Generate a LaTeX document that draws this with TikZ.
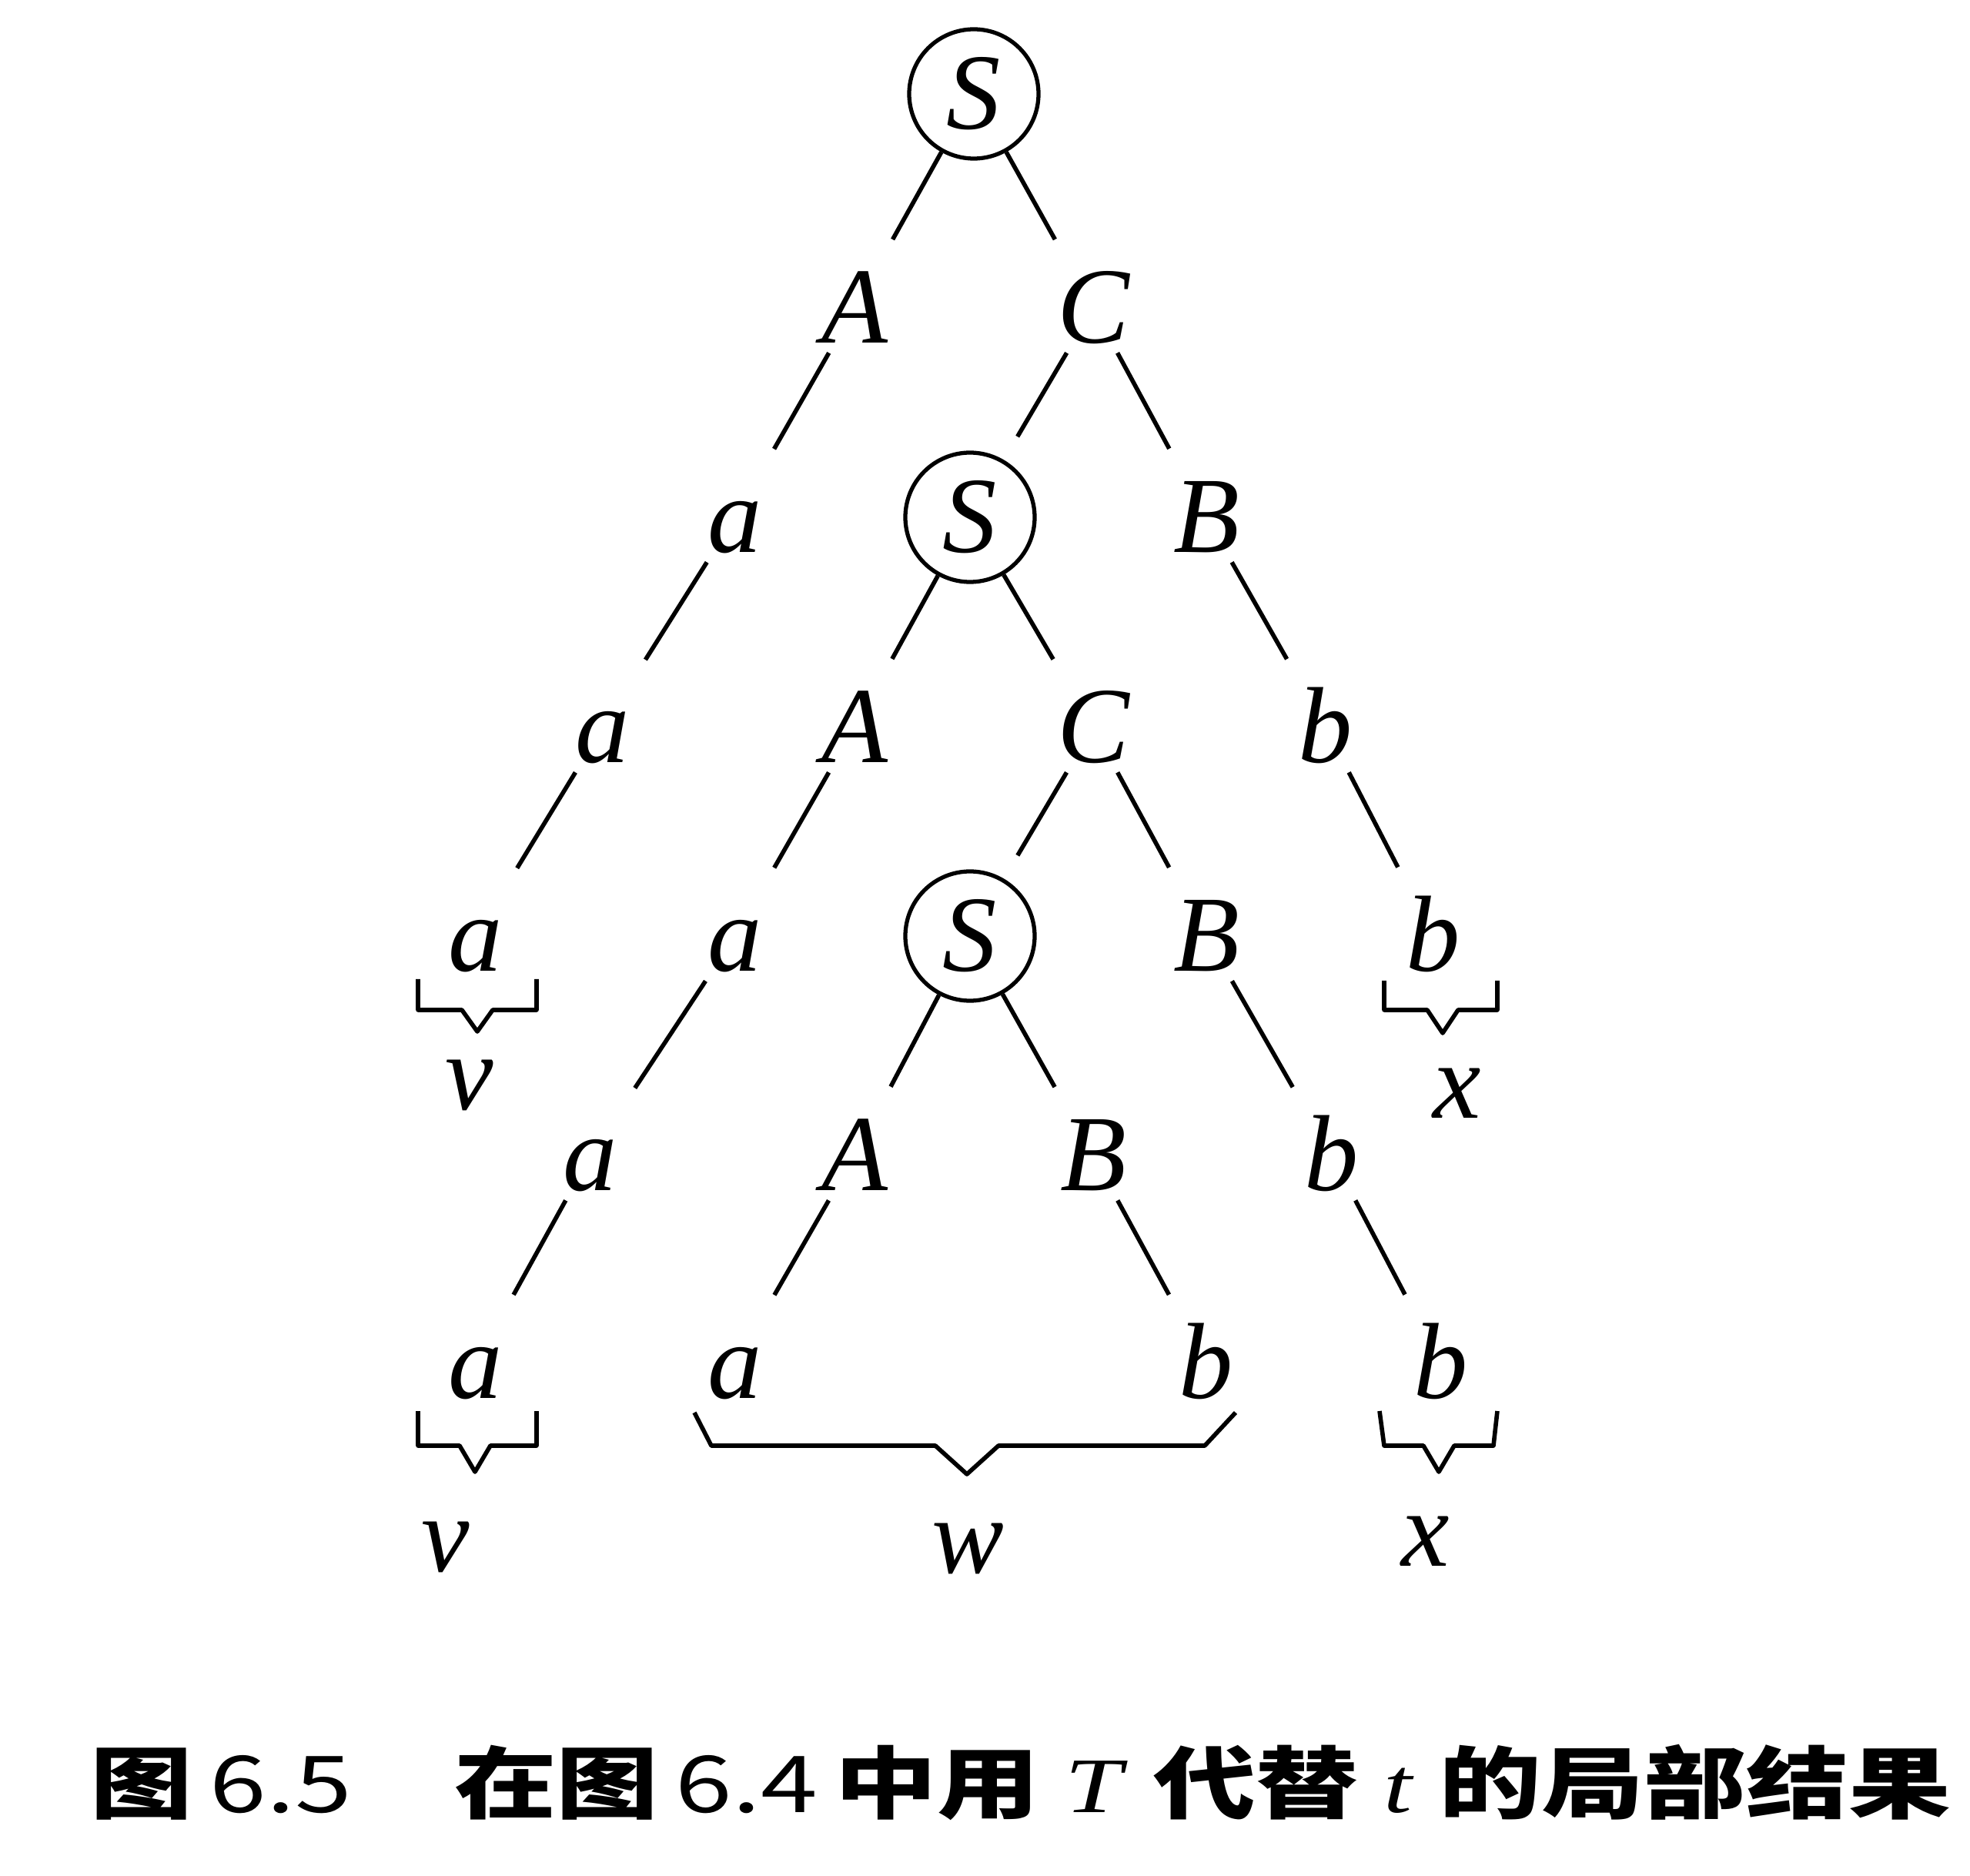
\documentclass[tikz,border=0pt]{standalone}
\usepackage{fontspec}
\setmainfont{Liberation Serif}
\newfontfamily\cjk{Noto Sans CJK SC}
\usetikzlibrary{calc}

\begin{document}
\begin{tikzpicture}[
    sym/.style={inner sep=0.12cm, font=\fontsize{40}{48}\selectfont\itshape, text height=26pt, text depth=0pt},
    root/.style={sym, circle, draw, line width=1.5pt, minimum size=1.68cm, inner sep=0pt},
    link/.style={line width=1.6pt, shorten >=0.35cm},
    brace/.style={line width=1.6pt, line join=round},
    tag/.style={font=\fontsize{40}{48}\selectfont\itshape}
]
    \useasboundingbox (0,0) rectangle (25.59,-24.37);

    % --- Row 1 ---
    \node[root] (S1) at (12.65,-1.22) {S};

    % --- Row 2 ---
    \node[sym] (A1) at (11.10,-4.00) {A};
    \node[sym] (C1) at (14.20,-4.00) {C};

    % --- Row 3 ---
    \node[sym] (a3) at (9.55,-6.72) {a};
    \node[root] (S2) at (12.60,-6.72) {S};
    \node[sym] (B3) at (15.67,-6.72) {B};

    % --- Row 4 ---
    \node[sym] (a4) at (7.83,-9.45) {a};
    \node[sym] (A4) at (11.10,-9.45) {A};
    \node[sym] (C4) at (14.20,-9.45) {C};
    \node[sym] (b4) at (17.22,-9.45) {b};

    % --- Row 5 ---
    \node[sym] (a5v) at (6.18,-12.16) {a};
    \node[sym] (a5) at (9.55,-12.16) {a};
    \node[root] (S3) at (12.60,-12.16) {S};
    \node[sym] (B5) at (15.67,-12.16) {B};
    \node[sym] (b5x) at (18.62,-12.16) {b};

    % --- Row 6 ---
    \node[sym] (a6) at (7.67,-15.01) {a};
    \node[sym] (A6) at (11.10,-15.01) {A};
    \node[sym] (B6) at (14.20,-15.01) {B};
    \node[sym] (b6) at (17.30,-15.01) {b};

    % --- Row 7 ---
    \node[sym] (a7v) at (6.18,-17.71) {a};
    \node[sym] (a7) at (9.55,-17.71) {a};
    \node[sym] (b7) at (15.67,-17.71) {b};
    \node[sym] (b7x) at (18.72,-17.71) {b};

    % Tree edges
    \draw[link] (S1) -- (A1);
    \draw[link] (S1) -- (C1);
    \draw[link] (A1) -- (a3);
    \draw[link] (C1) -- (S2);
    \draw[link] (C1) -- (B3);
    \draw[link] (a3) -- (a4);
    \draw[link] (S2) -- (A4);
    \draw[link] (S2) -- (C4);
    \draw[link] (B3) -- (b4);
    \draw[link] (a4) -- (a5v);
    \draw[link] (A4) -- (a5);
    \draw[link] (C4) -- (S3);
    \draw[link] (C4) -- (B5);
    \draw[link] (b4) -- (b5x);
    \draw[link] (a5) -- (a6);
    \draw[link] (S3) -- (A6);
    \draw[link] (S3) -- (B6);
    \draw[link] (B5) -- (b6);
    \draw[link] (a6) -- (a7v);
    \draw[link] (A6) -- (a7);
    \draw[link] (B6) -- (b7);
    \draw[link] (b6) -- (b7x);

    % Braces under the leaves
    \draw[brace] (5.43,-12.72) -- (5.43,-13.12) -- (6.00,-13.12) -- (6.20,-13.40) -- (6.40,-13.12) -- (6.97,-13.12) -- (6.97,-12.72);
    \draw[brace] (17.98,-12.74) -- (17.98,-13.12) -- (18.54,-13.12) -- (18.74,-13.42) -- (18.94,-13.12) -- (19.45,-13.12) -- (19.45,-12.74);
    \draw[brace] (5.43,-18.33) -- (5.43,-18.78) -- (5.97,-18.78) -- (6.17,-19.12) -- (6.37,-18.78) -- (6.97,-18.78) -- (6.97,-18.33);
    \draw[brace] (9.02,-18.35) -- (9.24,-18.78) -- (12.15,-18.78) -- (12.56,-19.15) -- (12.97,-18.78) -- (15.65,-18.78) -- (16.05,-18.35);
    \draw[brace] (17.92,-18.33) -- (17.98,-18.78) -- (18.49,-18.78) -- (18.69,-19.12) -- (18.89,-18.78) -- (19.40,-18.78) -- (19.45,-18.33);

    % Labels of the braces
    \node[tag] (v1) at (6.10,-14.10) {v};
    \node[tag] (x1) at (18.93,-14.20) {x};
    \node[tag] (v2) at (5.79,-20.10) {v};
    \node[tag] (w) at (12.57,-20.12) {w};
    \node[tag] (x2) at (18.52,-20.02) {x};

    % Caption
    \node[xscale=1.08, yscale=0.83, transform shape, font=\fontsize{35}{42}\selectfont] (cap) at (13.26,-23.15)
        {{\cjk\bfseries 图}\,{\cjk 6.5}\quad{\cjk\bfseries 在图}\,{\cjk 6.4}\,{\cjk\bfseries 中用}\ \textit{T}\ {\cjk\bfseries 代替}\ \textit{t}\ {\cjk\bfseries 的局部结果}};
\end{tikzpicture}
\end{document}
